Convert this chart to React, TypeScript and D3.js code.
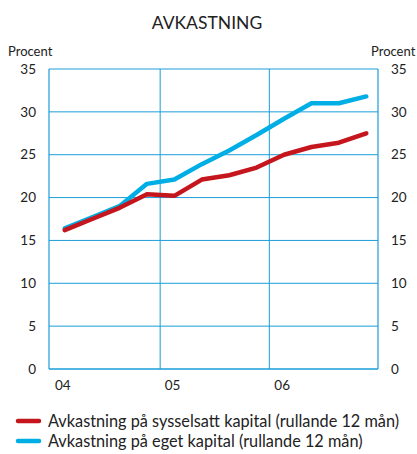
import React from 'react';
import * as d3 from 'd3';

// --- Data ---
const quarters = ['04Q1', '04Q2', '04Q3', '04Q4', '05Q1', '05Q2', '05Q3', '05Q4', '06Q1', '06Q2', '06Q3', '06Q4'];
const sysselsatt = [16.2, 17.5, 18.8, 20.4, 20.2, 22.1, 22.6, 23.5, 25.0, 25.9, 26.4, 27.5];
const eget = [16.4, 17.7, 19.0, 21.6, 22.1, 23.9, 25.5, 27.3, 29.2, 31.0, 31.0, 31.8];
const yTicks = [0, 5, 10, 15, 20, 25, 30, 35];
const yearLabels = ['04', '05', '06'];
const yearStarts = ['04Q1', '05Q1', '06Q1'];

const BLUE = '#1a9dd9';
const RED = '#c4161c';
const LINE_BLUE = '#00aee6';
const FONT = 'Lato, "Open Sans", sans-serif';

const App = () => {
    const width = 417, height = 454;
    const margin = { top: 69, right: 39, bottom: 85, left: 49 };
    const innerW = width - margin.left - margin.right;
    const innerH = height - margin.top - margin.bottom;

    const x = d3.scaleBand().domain(quarters).range([0, innerW]).paddingInner(0).paddingOuter(0);
    const xc = (q) => x(q) + x.bandwidth() / 2 + 2;
    const y = d3.scaleLinear().domain([0, 35]).range([innerH, 0]);

    const line = d3.line().x((d, i) => xc(quarters[i])).y(d => y(d));

    // year separators sit between Q4 and Q1 points
    const sepX = [xc('04Q4') + x.bandwidth() / 2 - 0.5, xc('05Q4') + x.bandwidth() / 2 - 1];

    return (
        <svg width={width} height={height} style={{ position: 'absolute', left: 0, top: 0, fontFamily: FONT }}>
            <rect width={width} height={height} fill="#fff" />
            <text x={207} y={29} textAnchor="middle" fontSize={17.5} fill="#222">AVKASTNING</text>
            <text x={8} y={56} fontSize={13} fill="#222">Procent</text>
            <text x={371} y={56} fontSize={13} fill="#222">Procent</text>
            <g transform={`translate(${margin.left},${margin.top})`}>
                {yTicks.map(t => (
                    <g key={t}>
                        <line x1={0} x2={innerW} y1={y(t)} y2={y(t)} stroke={BLUE} strokeWidth={t === 0 ? 1.5 : 1} />
                        <text x={-13} y={y(t)} dy="0.35em" textAnchor="end" fontSize={13.5} fill="#222">{t}</text>
                        <text x={innerW + 13} y={y(t)} dy="0.35em" textAnchor="start" fontSize={13.5} fill="#222">{t}</text>
                    </g>
                ))}
                <line x1={0} x2={0} y1={0} y2={innerH} stroke={BLUE} strokeWidth={1.2} />
                <line x1={innerW} x2={innerW} y1={0} y2={innerH} stroke={BLUE} strokeWidth={1.2} />
                {sepX.map((sx, i) => (
                    <line key={i} x1={sx} x2={sx} y1={0} y2={innerH} stroke={BLUE} strokeWidth={1} />
                ))}
                {yearLabels.map((l, i) => (
                    <text key={l} x={x(yearStarts[i]) + 6} y={innerH + 21} fontSize={13.5} fill="#222">{l}</text>
                ))}
                <path d={line(eget)} fill="none" stroke={LINE_BLUE} strokeWidth={4.5} strokeLinejoin="round" strokeLinecap="round" />
                <path d={line(sysselsatt)} fill="none" stroke={RED} strokeWidth={4.5} strokeLinejoin="round" strokeLinecap="round" />
            </g>
            <g fontSize={16.3} fill="#222">
                <line x1={18} x2={39} y1={421} y2={421} stroke={RED} strokeWidth={4.5} strokeLinecap="round" />
                <text x={48} y={421} dy="0.35em">Avkastning på sysselsatt kapital (rullande 12 mån)</text>
                <line x1={18} x2={39} y1={441} y2={441} stroke={LINE_BLUE} strokeWidth={4.5} strokeLinecap="round" />
                <text x={48} y={441} dy="0.35em">Avkastning på eget kapital (rullande 12 mån)</text>
            </g>
        </svg>
    );
};

export default App;
